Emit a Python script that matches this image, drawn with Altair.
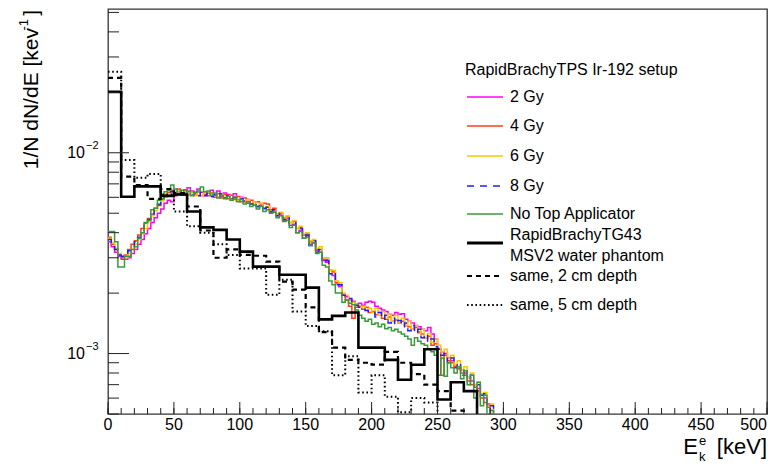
import altair as alt
import pandas as pd

# ---------------- data (values in units of 1e-3 per keV) ----------------
FINE_BIN = 2.5      # keV, RapidBrachyTPS histograms
COARSE_BIN = 10.0   # keV, RapidBrachyTG43 histograms

gy2 = [3.6, 3.4, 3.2, 3.05, 2.95, 2.95, 3.0, 3.15, 3.3, 3.5,
       3.7, 3.95, 4.2, 4.5, 4.75, 5.0, 5.25, 5.6, 5.8, 5.7,
       6.1, 6.4, 6.15, 6.55, 6.7, 6.45, 6.25, 6.6, 6.35, 6.2,
       6.3, 6.5, 6.15, 6.45, 6.05, 6.3, 6.2, 5.9, 6.25, 5.85,
       6.0, 5.7, 5.85, 5.55, 5.7, 5.4, 5.5, 5.25, 5.35, 5.05,
       5.15, 4.85, 4.9, 4.6, 4.7, 4.35, 4.4, 4.0, 4.1, 3.75,
       3.85, 3.5, 3.55, 3.25, 3.2, 2.9, 2.85, 2.5, 2.45, 2.25,
       2.15, 1.95, 1.92, 1.85, 1.82, 1.76, 1.78, 1.74, 1.8, 1.82,
       1.8, 1.72, 1.68, 1.65, 1.62, 1.58, 1.55, 1.6, 1.57, 1.58,
       1.48, 1.45, 1.42, 1.38, 1.36, 1.32, 1.3, 1.35, 1.25, 1.18,
       1.06, 1.02, 1.0, 0.95, 0.92, 0.88, 0.86, 0.83, 0.8, 0.76,
       0.73, 0.7, 0.67, 0.63, 0.6, 0.56, 0.52, 0.47, 0.38, 0.2]

gy4 = [3.8, 3.5, 3.3, 3.1, 3.0, 3.1, 3.3, 3.5, 3.65, 3.9,
       4.2, 4.45, 4.7, 4.95, 5.3, 5.55, 5.85, 6.2, 6.35, 6.5,
       6.35, 6.6, 6.25, 6.45, 6.2, 6.4, 6.15, 6.35, 6.1, 6.4,
       6.1, 6.3, 6.0, 6.25, 5.95, 6.2, 5.9, 6.15, 5.85, 6.05,
       5.7, 5.95, 5.6, 5.8, 5.5, 5.7, 5.45, 5.6, 5.55, 5.2,
       5.3, 4.95, 5.0, 4.75, 4.8, 4.5, 4.55, 4.2, 4.25, 3.9,
       3.95, 3.6, 3.65, 3.3, 3.3, 2.95, 2.95, 2.6, 2.55, 2.25,
       2.2, 1.95, 1.85, 1.72, 1.5, 1.7, 1.72, 1.66, 1.7, 1.6,
       1.62, 1.56, 1.6, 1.5, 1.48, 1.52, 1.45, 1.47, 1.42, 1.45,
       1.38, 1.36, 1.32, 1.35, 1.28, 1.25, 1.2, 1.22, 1.1, 1.12,
       1.05, 0.78, 0.98, 0.92, 0.9, 0.86, 0.84, 0.8, 0.78, 0.73,
       0.7, 0.68, 0.65, 0.6, 0.57, 0.54, 0.5, 0.45, 0.35, 0.2]

gy6 = [3.75, 3.55, 3.35, 3.15, 3.05, 3.0, 3.15, 3.3, 3.5, 3.7,
       3.95, 4.2, 4.55, 4.85, 5.15, 5.45, 5.75, 6.0, 6.25, 6.35,
       6.3, 6.45, 6.2, 6.4, 6.15, 6.35, 6.1, 6.4, 6.15, 6.3,
       6.35, 6.05, 6.25, 6.0, 6.2, 5.95, 6.1, 5.85, 6.05, 5.8,
       5.95, 5.7, 5.85, 5.55, 5.7, 5.35, 5.6, 5.25, 5.4, 5.15,
       5.2, 4.95, 5.05, 4.7, 4.85, 4.5, 4.6, 4.2, 4.3, 3.95,
       4.0, 3.65, 3.7, 3.35, 3.4, 3.0, 3.0, 2.6, 2.6, 2.3,
       2.25, 2.0, 1.95, 1.85, 1.8, 1.75, 1.7, 1.72, 1.65, 1.68,
       1.6, 1.68, 1.55, 1.62, 1.5, 1.58, 1.45, 1.55, 1.42, 1.5,
       1.38, 1.45, 1.32, 1.38, 1.26, 1.32, 1.2, 1.26, 1.14, 1.18,
       1.1, 1.02, 1.05, 0.95, 0.98, 0.88, 0.92, 0.83, 0.86, 0.76,
       0.8, 0.7, 0.72, 0.63, 0.64, 0.55, 0.56, 0.48, 0.42, 0.25]

gy8 = [3.7, 3.5, 3.3, 3.1, 3.05, 3.1, 3.25, 3.4, 3.6, 3.8,
       4.05, 4.35, 4.65, 4.95, 5.25, 5.5, 5.8, 6.1, 6.3, 6.4,
       6.5, 6.25, 6.45, 6.2, 6.4, 6.15, 6.35, 6.1, 6.35, 6.1,
       6.3, 6.05, 6.2, 6.0, 6.25, 5.95, 6.1, 5.9, 6.0, 5.85,
       5.9, 5.75, 5.8, 5.55, 5.65, 5.4, 5.5, 5.3, 5.35, 5.1,
       5.2, 4.85, 5.0, 4.65, 4.8, 4.45, 4.5, 4.15, 4.2, 3.85,
       3.9, 3.45, 3.65, 3.2, 3.3, 2.85, 2.9, 2.5, 2.55, 2.2,
       2.2, 1.95, 1.9, 1.88, 1.78, 1.74, 1.7, 1.66, 1.64, 1.62,
       1.62, 1.52, 1.6, 1.48, 1.55, 1.42, 1.5, 1.4, 1.46, 1.36,
       1.42, 1.3, 1.38, 1.26, 1.32, 1.2, 1.25, 1.14, 1.18, 1.08,
       1.05, 0.98, 1.0, 0.9, 0.95, 0.85, 0.9, 0.78, 0.84, 0.74,
       0.78, 0.68, 0.7, 0.62, 0.63, 0.54, 0.55, 0.48, 0.44, 0.3]

no_top = [4.05, 4.05, 3.6, 2.7, 2.7, 3.05, 3.05, 3.3, 3.4, 3.75,
          4.0, 4.5, 4.6, 5.2, 5.3, 5.8, 5.9, 6.4, 6.5, 6.9,
          6.6, 6.2, 6.5, 6.15, 6.45, 6.1, 6.35, 6.45, 6.75, 6.4,
          6.45, 6.15, 6.3, 5.95, 6.15, 5.9, 6.05, 5.8, 5.95, 5.7,
          5.85, 5.55, 5.7, 5.4, 5.5, 5.25, 5.4, 5.1, 5.2, 5.0,
          5.05, 4.75, 4.85, 4.55, 4.6, 4.25, 4.35, 4.0, 4.05, 3.75,
          3.8, 3.45, 3.55, 3.15, 3.2, 2.75, 2.7, 2.3, 2.2, 2.0,
          2.0, 1.8, 1.85, 1.78, 1.75, 1.65, 1.55, 1.5, 1.45, 1.48,
          1.4, 1.42, 1.36, 1.4, 1.33, 1.35, 1.3, 1.32, 1.28, 1.25,
          1.22, 1.18, 1.1, 1.2, 1.15, 1.12, 1.1, 1.05, 1.02, 0.98,
          0.78, 0.95, 0.77, 0.9, 0.85, 0.8, 0.86, 0.75, 0.82, 0.7,
          0.78, 0.6, 0.72, 0.55, 0.62, 0.5, 0.52, 0.45, 0.3, 0.2]

tg43_1cm = [20.1, 6.04, 6.8, 6.8, 6.1, 6.2, 5.1, 4.25, 4.13, 3.7,
            3.22, 2.71, 2.71, 2.47, 2.47, 2.13, 1.48, 1.54, 1.6, 1.07,
            1.07, 0.93, 0.74, 0.88, 1.05, 0.59, 0.72, 0.65, 0.01]

tg43_2cm = [23.6, 7.6, 6.9, 5.9, 6.6, 6.3, 5.4, 4.1, 3.0, 3.3,
            3.1, 3.07, 2.87, 2.28, 2.08, 1.7, 1.28, 1.07, 0.93, 0.9,
            0.88, 1.02, 0.9, 0.79, 0.7, 0.65, 0.52, 0.3, 0.01]

tg43_5cm = [25.3, 9.2, 7.5, 7.85, 6.2, 5.1, 4.3, 4.0, 3.5, 3.1,
            2.65, 2.65, 1.96, 2.33, 1.62, 1.37, 1.29, 0.78, 0.97, 0.64,
            0.78, 0.61, 0.51, 0.6, 0.57, 0.3, 0.01]

x_major = [0, 50, 100, 150, 200, 250, 300, 350, 400, 450, 500]
x_minor = [10 * i for i in range(51)]
y_major = [1e-3, 1e-2]
y_major_exp = ["\u22123", "\u22122"]
y_minor = [5e-4, 6e-4, 7e-4, 8e-4, 9e-4,
           2e-3, 3e-3, 4e-3, 5e-3, 6e-3, 7e-3, 8e-3, 9e-3,
           2e-2, 3e-2, 4e-2, 5e-2]

legend_title = "RapidBrachyTPS Ir-192 setup"
legend_labels = ["2 Gy", "4 Gy", "6 Gy", "8 Gy", "No Top Applicator",
                 "RapidBrachyTG43", "MSV2 water phantom",
                 "same, 2 cm depth", "same, 5 cm depth"]

# ---------------- layout / style ----------------
W, H = 659, 405
FONT = "Liberation Sans"
C_PINK, C_RED, C_YEL, C_BLUE, C_GRN = "#ff00ff", "#ff3d1f", "#ffc400", "#2020ff", "#3a9a3a"

XS = alt.Scale(domain=[0, 500], nice=False, zero=False)
YS = alt.Scale(type="log", domain=[5e-4, 0.052], nice=False)


def hist_df(values, width):
    xs = [i * width for i in range(len(values))] + [len(values) * width]
    ys = [v * 1e-3 for v in values] + [values[-1] * 1e-3]
    return pd.DataFrame({"x": xs, "y": ys})


def hist_layer(values, width, color, sw, dash=None):
    kw = dict(interpolate="step-after", clip=True, color=color, strokeWidth=sw)
    if dash:
        kw["strokeDash"] = dash
    return alt.Chart(hist_df(values, width)).mark_line(**kw).encode(
        x=alt.X("x:Q", scale=XS, axis=None),
        y=alt.Y("y:Q", scale=YS, axis=None),
    )


layers = []
layers.append(hist_layer(gy2, FINE_BIN, C_PINK, 1.5))
layers.append(hist_layer(gy4, FINE_BIN, C_RED, 1.5))
layers.append(hist_layer(gy6, FINE_BIN, C_YEL, 1.5))
layers.append(hist_layer(gy8, FINE_BIN, C_BLUE, 1.5, [7, 6]))
layers.append(hist_layer(no_top, FINE_BIN, C_GRN, 1.5))
layers.append(hist_layer(tg43_1cm, COARSE_BIN, "black", 2.6))
layers.append(hist_layer(tg43_2cm, COARSE_BIN, "black", 2.2, [5, 4]))
layers.append(hist_layer(tg43_5cm, COARSE_BIN, "black", 2.0, [1.6, 2.6]))

# ---- inward ticks (ROOT style) ----
one = pd.DataFrame({"k": [0]})
tick_col = "#222222"
layers.append(alt.Chart(pd.DataFrame({"x": x_minor})).mark_rule(color=tick_col, strokeWidth=1).encode(
    x=alt.X("x:Q", scale=XS, axis=None), y=alt.value(H), y2=alt.value(H - 6)))
layers.append(alt.Chart(pd.DataFrame({"x": x_major})).mark_rule(color=tick_col, strokeWidth=1).encode(
    x=alt.X("x:Q", scale=XS, axis=None), y=alt.value(H), y2=alt.value(H - 12)))
layers.append(alt.Chart(pd.DataFrame({"y": y_minor})).mark_rule(color=tick_col, strokeWidth=1).encode(
    y=alt.Y("y:Q", scale=YS, axis=None), x=alt.value(0), x2=alt.value(11)))
layers.append(alt.Chart(pd.DataFrame({"y": y_major})).mark_rule(color=tick_col, strokeWidth=1).encode(
    y=alt.Y("y:Q", scale=YS, axis=None), x=alt.value(0), x2=alt.value(21)))

# ---- tick labels ----
xl = pd.DataFrame({"x": x_major, "t": [str(v) for v in x_major]})
layers.append(alt.Chart(xl.iloc[:-1]).mark_text(font=FONT, fontSize=16, align="center", baseline="middle", color="black").encode(
    x=alt.X("x:Q", scale=XS, axis=None), y=alt.value(H + 11), text="t:N"))
layers.append(alt.Chart(xl.iloc[-1:]).mark_text(font=FONT, fontSize=16, align="right", baseline="middle", color="black").encode(
    x=alt.X("x:Q", scale=XS, axis=None), y=alt.value(H + 11), text="t:N"))
yl = pd.DataFrame({"y": y_major, "e": y_major_exp, "b": ["10", "10"]})
layers.append(alt.Chart(yl).mark_text(font=FONT, fontSize=16, align="right", baseline="middle", color="black").encode(
    y=alt.Y("y:Q", scale=YS, axis=None), x=alt.value(-23), text="b:N"))
layers.append(alt.Chart(yl).mark_text(font=FONT, fontSize=11, align="left", baseline="middle", dy=-7, color="black").encode(
    y=alt.Y("y:Q", scale=YS, axis=None), x=alt.value(-22), text="e:N"))

# ---- axis titles ----
def txt(s, x, y, size=16, align="left", baseline="middle", angle=None):
    kw = dict(text=s, font=FONT, fontSize=size, align=align, baseline=baseline, color="black")
    if angle is not None:
        kw["angle"] = angle
    return alt.Chart(one).mark_text(**kw).encode(x=alt.value(x), y=alt.value(y))

layers.append(txt("[keV]", W, 445, size=22, align="right", baseline="alphabetic"))
layers.append(txt("E", 590, 445, size=22, align="right", baseline="alphabetic"))
layers.append(txt("e", 591, 436, size=13, align="left", baseline="alphabetic"))
layers.append(txt("k", 591, 452, size=13, align="left", baseline="alphabetic"))

layers.append(txt("1/N dN/dE [kev", -76, 19, size=21, align="right", angle=270))
layers.append(txt("-1", -84, 10, size=13, align="right", angle=270))
layers.append(txt("]", -76, 1, size=21, align="right", angle=270))

# ---- legend ----
LX0, LX1, LTX = 359, 395, 402
layers.append(txt(legend_title, 357, 61, size=16))
leg_y = [88, 117, 147, 177, 205, 226, 247, 267, 296]
for lab, yy in zip(legend_labels, leg_y):
    layers.append(txt(lab, LTX, yy, size=16))

def leg_line(y, color, sw, dash=None):
    kw = dict(color=color, strokeWidth=sw)
    if dash:
        kw["strokeDash"] = dash
    return alt.Chart(one).mark_rule(**kw).encode(x=alt.value(LX0), x2=alt.value(LX1), y=alt.value(y))

layers.append(leg_line(88, C_PINK, 1.6))
layers.append(leg_line(117, C_RED, 1.6))
layers.append(leg_line(147, C_YEL, 1.6))
layers.append(leg_line(177, C_BLUE, 1.6, [7, 6]))
layers.append(leg_line(205, C_GRN, 1.6))
layers.append(leg_line(234, "black", 2.8))
layers.append(leg_line(267, "black", 2.2, [5, 4]))
layers.append(leg_line(296, "black", 2.0, [1.6, 2.6]))

chart = alt.layer(*layers).properties(
    width=W, height=H,
    padding={"left": 108, "top": 9, "right": 16, "bottom": 54},
    autosize=alt.AutoSizeParams(type="none"),
    background="white",
).configure_view(stroke="#333333", strokeWidth=1.3)

chart.save("out.html", embed_options={"renderer": "svg", "actions": False})
